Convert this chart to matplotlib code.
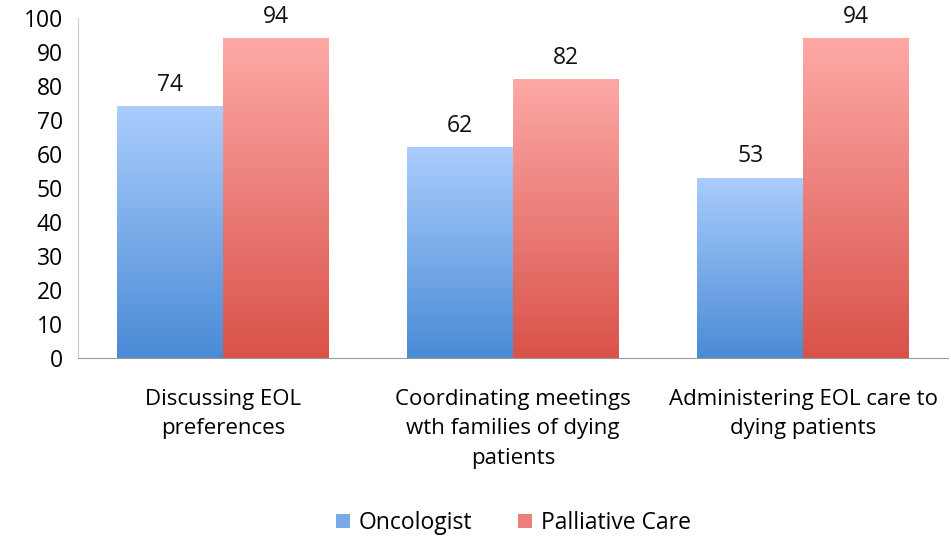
import matplotlib
matplotlib.use('Agg')
import matplotlib.pyplot as plt
import numpy as np
from matplotlib.colors import LinearSegmentedColormap
from matplotlib.patches import Patch

categories = ["Discussing EOL\npreferences",
              "Coordinating meetings\nwth families of dying\npatients",
              "Administering EOL care to\ndying patients"]
series_names = ["Oncologist", "Palliative Care"]
oncologist = [74, 62, 53]
palliative = [94, 82, 94]
yticks = list(range(0, 101, 10))

# bottom -> top colours of the gradient fill
blue_cmap = LinearSegmentedColormap.from_list("b", ["#4a8bd6", "#aacdfc"])
red_cmap = LinearSegmentedColormap.from_list("r", ["#d9524a", "#fda9a6"])

plt.rcParams['font.family'] = ['Open Sans', 'DejaVu Sans']

fig = plt.figure(figsize=(9.51, 5.40), dpi=100)
ax = fig.add_axes([0.082, 0.337, 0.915, 0.63])

x = np.arange(len(categories))
w = 0.365
grad = np.linspace(0, 1, 256).reshape(-1, 1)

for vals, off, cmap in [(oncologist, -w / 2, blue_cmap), (palliative, w / 2, red_cmap)]:
    bars = ax.bar(x + off, vals, w, color="none", edgecolor="none")
    for b, v in zip(bars, vals):
        x0 = b.get_x()
        im = ax.imshow(grad, cmap=cmap, origin="lower", aspect="auto",
                       extent=[x0, x0 + w, 0, v], zorder=2)
        im.set_clip_path(b)
        ax.text(x0 + w / 2, v + 2.8, str(v), ha="center", va="bottom",
                fontsize=16.5, color="#111111")

ax.set_xlim(-0.5, 2.5)
ax.set_ylim(0, 100)
ax.set_yticks(yticks)
ax.set_yticklabels([str(t) for t in yticks], fontsize=16.5)
ax.set_xticks(x)
ax.set_xticklabels(categories, fontsize=16, linespacing=1.55, va="top")
ax.tick_params(axis="y", length=0, pad=11)
ax.tick_params(axis="x", length=0, pad=22)

for s in ["top", "right"]:
    ax.spines[s].set_visible(False)
ax.spines["left"].set_color("#cccccc")
ax.spines["bottom"].set_color("#999999")

handles = [Patch(facecolor="#7aa9e6", edgecolor="none"),
           Patch(facecolor="#ec7f79", edgecolor="none")]
fig.legend(handles, series_names, loc="center", bbox_to_anchor=(0.54, 0.031),
           ncol=2, frameon=False, fontsize=16.5, handlelength=0.6,
           handleheight=0.6, handletextpad=0.4, columnspacing=2.0)

fig.savefig("out.png", dpi=100)
